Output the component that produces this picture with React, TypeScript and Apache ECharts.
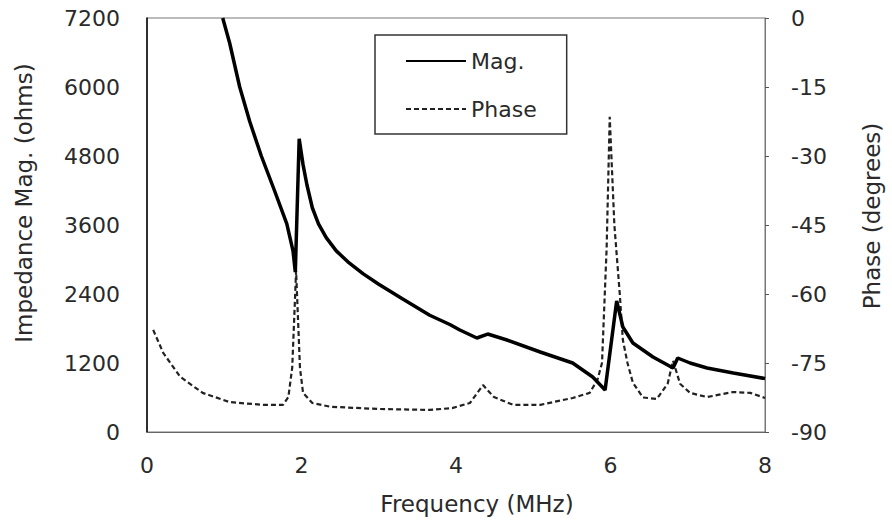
import React, { useEffect, useRef } from "react";
import * as echarts from "echarts";

const magFreq = [0.98, 1.07, 1.2, 1.33, 1.48, 1.65, 1.81, 1.89, 1.92, 1.97, 2.02, 2.07, 2.14, 2.22, 2.32, 2.45, 2.6, 2.8, 3.0, 3.3, 3.66, 3.92, 4.05, 4.27, 4.41, 4.66, 5.09, 5.51, 5.77, 5.93, 6.08, 6.16, 6.29, 6.55, 6.81, 6.87, 7.03, 7.25, 7.59, 8.0];
const magVal = [7200, 6765, 6000, 5400, 4800, 4200, 3620, 3150, 2780, 5100, 4650, 4300, 3900, 3620, 3380, 3150, 2960, 2750, 2570, 2320, 2030, 1870, 1774, 1635, 1704, 1600, 1391, 1200, 957, 730, 2280, 1826, 1548, 1304, 1113, 1287, 1200, 1113, 1026, 930];

const phaseFreq = [0.08, 0.21, 0.43, 0.72, 1.07, 1.5, 1.76, 1.83, 1.88, 1.93, 1.98, 2.02, 2.14, 2.37, 3.0, 3.66, 3.95, 4.18, 4.35, 4.49, 4.74, 5.09, 5.51, 5.73, 5.83, 5.89, 5.95, 5.99, 6.05, 6.12, 6.16, 6.22, 6.29, 6.42, 6.6, 6.74, 6.81, 6.9, 7.03, 7.25, 7.59, 7.81, 8.0];
const phaseVal = [-67.8, -72.8, -78, -81.5, -83.5, -84.1, -84.1, -82.4, -76, -55, -76, -81.5, -83.7, -84.5, -85, -85.2, -84.8, -83.7, -79.8, -82.4, -84.1, -84.1, -82.6, -81.5, -78.7, -75, -50, -21.5, -45, -60, -70, -75, -79.3, -82.5, -82.8, -79.5, -74.5, -79.5, -81.5, -82.4, -81.3, -81.5, -82.6];

const xTicks = { min: 0, max: 8, interval: 2 };
const magTicks = { min: 0, max: 7200, interval: 1200 };
const phaseTicks = { min: -90, max: 0, interval: 15 };

const FONT = "DejaVu Sans";

export default function App() {
  const ref = useRef<HTMLDivElement>(null);
  useEffect(() => {
    if (!ref.current) return;
    const chart = echarts.init(ref.current, null, { renderer: "svg" });
    const txt = { fontFamily: FONT, fontSize: 22, color: "#2a2a2a" };
    const ttl = { fontFamily: FONT, fontSize: 23, color: "#2a2a2a" };
    chart.setOption({
      animation: false,
      backgroundColor: "#fff",
      grid: { left: 147, right: 127, top: 18, bottom: 99, show: true, borderColor: "#777", borderWidth: 1 },
      legend: {
        orient: "vertical",
        left: 375,
        top: 35,
        padding: [15, 30, 14, 30],
        itemGap: 26,
        itemWidth: 60,
        itemHeight: 14,
        borderColor: "#333",
        borderWidth: 1.5,
        itemStyle: { opacity: 0 },
        textStyle: { ...txt },
        data: ["Mag.", "Phase"],
      },
      xAxis: {
        type: "value",
        min: xTicks.min,
        max: xTicks.max,
        interval: xTicks.interval,
        name: "Frequency (MHz)",
        nameLocation: "middle",
        nameGap: 60,
        nameTextStyle: { ...ttl, padding: [0, 0, 0, 42] },
        axisLine: { show: true, lineStyle: { color: "#666", width: 1 } },
        axisTick: { show: false },
        axisLabel: { ...txt, margin: 22 },
        splitLine: { show: false },
      },
      yAxis: [
        {
          type: "value",
          min: magTicks.min,
          max: magTicks.max,
          interval: magTicks.interval,
          position: "left",
          name: "Impedance Mag. (ohms)",
          nameLocation: "middle",
          nameGap: 112,
          nameTextStyle: { ...ttl, padding: [0, 0, 0, 44] },
          axisLine: { show: true, lineStyle: { color: "#000", width: 1.5 } },
          axisTick: { show: false },
          axisLabel: { ...txt, margin: 27, formatter: (v: number) => String(v) },
          splitLine: { show: false },
        },
        {
          type: "value",
          min: phaseTicks.min,
          max: phaseTicks.max,
          interval: phaseTicks.interval,
          position: "right",
          name: "Phase (degrees)",
          nameLocation: "middle",
          nameGap: 95,
          nameTextStyle: { ...ttl, padding: [0, 0, 0, 18] },
          axisLine: { show: true, lineStyle: { color: "#777", width: 1 } },
          axisTick: { show: true, length: 4, lineStyle: { color: "#555" } },
          axisLabel: { ...txt, margin: 26 },
          splitLine: { show: false },
        },
      ],
      series: [
        {
          name: "Mag.",
          type: "line",
          yAxisIndex: 0,
          symbol: "none",
          data: magFreq.map((f, i) => [f, magVal[i]]),
          lineStyle: { color: "#000", width: 3.5 },
          itemStyle: { color: "#000" },
          z: 3,
        },
        {
          name: "Phase",
          type: "line",
          yAxisIndex: 1,
          symbol: "none",
          data: phaseFreq.map((f, i) => [f, phaseVal[i]]),
          lineStyle: { color: "#222", width: 2.2, type: [5, 3] },
          itemStyle: { color: "#222" },
          z: 2,
        },
      ],
    });
    return () => chart.dispose();
  }, []);
  return <div ref={ref} style={{ position: "absolute", left: 0, top: 0, width: 892, height: 531 }} />;
}
